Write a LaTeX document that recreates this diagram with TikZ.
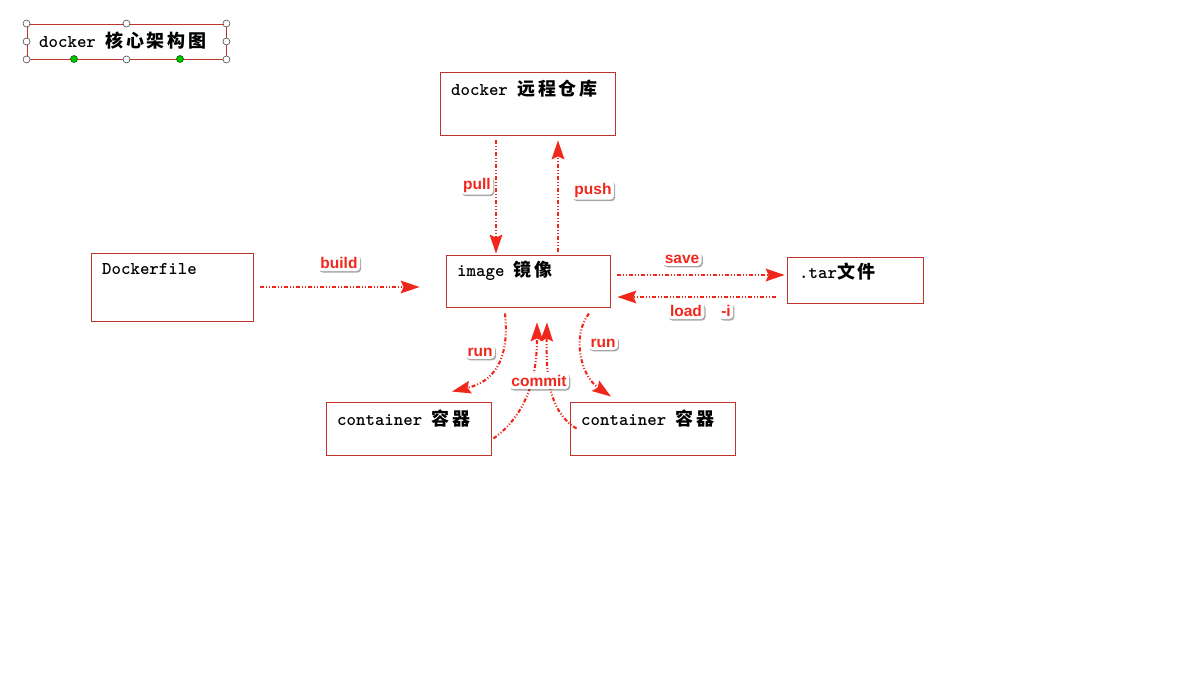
\documentclass[tikz,border=0pt]{standalone}
\usepackage{fontspec}
\newfontfamily\cjkf[LetterSpace=15]{Noto Sans CJK SC}
\newfontfamily\labf{Liberation Sans}
\usetikzlibrary{arrows.meta,shadows,calc}
\definecolor{boxred}{RGB}{192,52,44}
\definecolor{arrred}{RGB}{240,40,28}
\newcommand{\cnt}[1]{{\cjkf\bfseries\fontsize{18}{20}\selectfont #1}}
\tikzset{
  box/.style={draw=boxred, line width=0.9pt, fill=white, inner sep=0pt},
  txt/.style={anchor=west, inner sep=0pt, font=\ttfamily\bfseries\fontsize{18}{20}\selectfont, text=black},
  flow/.style={draw=arrred, line width=2.1pt, dash pattern=on 4pt off 2pt on 1pt off 2pt on 1pt off 2pt,
    -{Stealth[length=19pt,width=13pt,inset=3pt,fill=arrred,line width=0pt]}},
  lbl/.style={fill=white, rounded corners=4pt, inner sep=2.5pt, text=arrred,
    font=\labf\bfseries\fontsize{15.5}{17}\selectfont,
    drop shadow={shadow xshift=1.2pt, shadow yshift=-1.5pt, fill=black, opacity=0.35}},
  handle/.style={circle, draw=black!70, fill=white, line width=0.6pt, minimum size=7pt, inner sep=0pt},
  ghandle/.style={circle, draw=green!40!black, fill=green!75!black, line width=0.6pt, minimum size=7pt, inner sep=0pt}
}
\begin{document}
\begin{tikzpicture}[x=1pt,y=-1pt]
\useasboundingbox (0,0) rectangle (1202,674);
\fill[white] (0,0) rectangle (1202,674);

% title box
\node[box, minimum width=199pt, minimum height=35pt] (title) at (126.5,41.5) {};
\node[txt] (titletext) at (39,41) {docker \cnt{核心架构图}};
\foreach \p/\n in {north west/a, north/b, north east/c, west/d, east/e, south west/f, south/g, south east/h}
  \node[handle] (h\n) at (title.\p) {};
\node[ghandle] (g1) at (74,59) {};
\node[ghandle] (g2) at (180,59) {};

% boxes
\node[box, minimum width=175pt, minimum height=63pt] (remote) at (527.5,103.5) {};
\node[txt] (remotetext) at (451,89) {docker \cnt{远程仓库}};

\node[box, minimum width=162pt, minimum height=68pt] (dockerfile) at (172,287) {};
\node[txt] (dockerfiletext) at (102,269) {Dockerfile};

\node[box, minimum width=164pt, minimum height=52pt] (image) at (528,281) {};
\node[txt] (imagetext) at (457,271) {image \cnt{镜像}};

\node[box, minimum width=136pt, minimum height=46pt] (tar) at (855,280) {};
\node[txt] (tartext) at (799,272) {.tar\cnt{文件}};

\node[box, minimum width=165pt, minimum height=53pt] (c1) at (408.5,428.5) {};
\node[txt] (c1text) at (337,419) {container \cnt{容器}};

\node[box, minimum width=165pt, minimum height=53pt] (c2) at (652.5,428.5) {};
\node[txt] (c2text) at (581,419) {container \cnt{容器}};

% connectors
\draw[flow] ($(remote.south)+(-31.5,5)$) -- ($(image.north)+(-32,-1)$);
\draw[flow] ($(image.north)+(30,-3)$) -- ($(remote.south)+(30.5,5)$);
\draw[flow] ($(dockerfile.east)+(7,0)$) -- ($(image.west)+(-26,6)$);
\draw[flow] ($(image.east)+(7,-6)$) -- ($(tar.west)+(-2,-5)$);
\draw[flow] ($(tar.west)+(-11,17)$) -- ($(image.east)+(7,16)$);
\draw[flow] ($(image.south)+(-23,6)$) .. controls (510,362) and (492,382) .. ($(c1.north)+(43.5,-10)$);
\draw[flow] ($(image.south)+(61,6)$) .. controls (572,335) and (580,375) .. ($(c2.north)+(-41.5,-5)$);
\draw[flow] ($(c1.east)+(2,10)$) .. controls (522,418) and (537,385) .. ($(image.south)+(9,15)$);
\draw[flow] ($(c2.west)+(7,0)$) .. controls (548,412) and (546,372) .. ($(image.south)+(19,15)$);

% labels
\node[lbl] (lpull) at (477,185) {pull};
\node[lbl] (lpush) at (593,190) {push};
\node[lbl] (lbuild) at (339,263) {build};
\node[lbl] (lsave) at (682,259) {save};
\node[lbl] (lload) at (686,311) {load};
\node[lbl] (li) at (726,311) {-i};
\node[lbl] (lrun1) at (480,352) {run};
\node[lbl] (lrun2) at (603,343) {run};
\node[lbl] (lcommit) at (539,381) {commit};
\end{tikzpicture}
\end{document}
